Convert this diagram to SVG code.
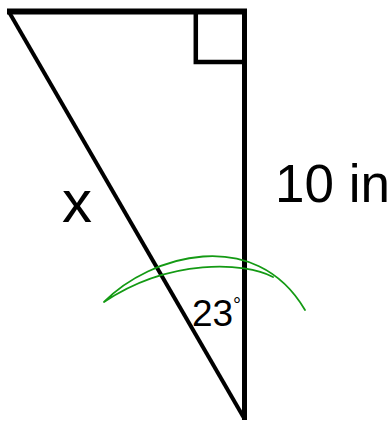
<svg xmlns="http://www.w3.org/2000/svg" width="391" height="424" viewBox="0 0 391 424">
<style>
.edge{stroke:#000;fill:none;stroke-linecap:butt;stroke-linejoin:miter}
.lbl{font-family:"Liberation Sans",Arial,sans-serif;fill:#000}
.arc{stroke:#149a14;stroke-width:1.8;fill:none;stroke-linecap:round;stroke-linejoin:round}
</style>
<rect width="391" height="424" fill="#fff"/>
<g id="connectors">
<line class="edge" x1="7" y1="11.5" x2="247" y2="11.5" stroke-width="6"/>
<line class="edge" x1="244.5" y1="9" x2="244.5" y2="420" stroke-width="5"/>
<line class="edge" x1="9" y1="12" x2="244" y2="418" stroke-width="4"/>
</g>
<g id="right-angle">
<polyline class="edge" points="195.8,12 195.8,62 244,62" stroke-width="4.5"/>
</g>
<g id="label-x"><text class="lbl" x="62" y="222" font-size="60">x</text></g>
<g id="label-10in"><text class="lbl" x="275" y="202" font-size="53">10 in</text></g>
<g id="label-23"><text class="lbl" x="192" y="326" font-size="37">23</text><text class="lbl" x="233" y="312" font-size="20" fill="#555">°</text></g>
<g id="green-arc">
<path class="arc" d="M273,277 C245,262 170,258 104,302 C150,255 255,225 305,310"/>
</g>
</svg>
